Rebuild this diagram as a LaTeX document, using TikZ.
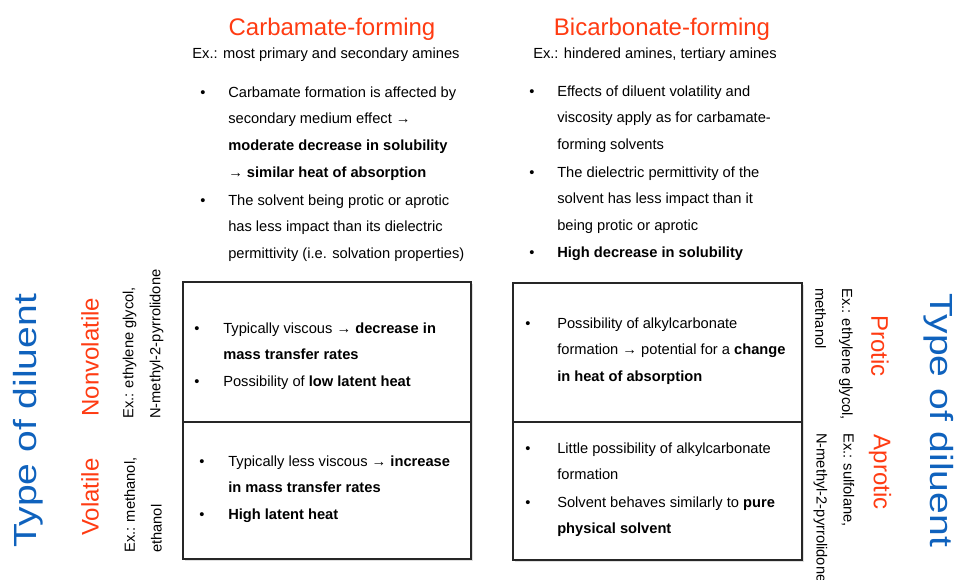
\documentclass[tikz,border=0pt]{standalone}
\usepackage{fontspec}
\setmainfont{Liberation Sans}
\usetikzlibrary{shadows}
\definecolor{hdred}{HTML}{FF3B12}
\definecolor{dilblue}{HTML}{0F62BD}
\newcommand{\txtlines}[1]{\begin{tabular}[t]{@{}l@{}}#1\end{tabular}}

\begin{document}
\begin{tikzpicture}[x=0.75pt,y=-0.75pt,
    body/.style={font=\fontsize{11}{20.2}\selectfont,anchor=base west,inner sep=0pt},
    bul/.style={font=\fontsize{11}{20.2}\selectfont,anchor=base,inner sep=0pt},
    head/.style={font=\fontsize{18}{20}\selectfont,text=hdred,inner sep=0pt},
    sub/.style={font=\fontsize{11}{14}\selectfont,anchor=base,inner sep=0pt},
    side/.style={font=\fontsize{11}{20.2}\selectfont,align=left,anchor=west,inner sep=0pt},
    dil/.style={font=\fontsize{24}{26}\selectfont,text=dilblue,inner sep=0pt},
    cell/.style={draw=black!85,line width=1.1pt,fill=white,
        drop shadow={shadow xshift=1.3pt,shadow yshift=-1.3pt,opacity=0.25}}]
        \useasboundingbox (0,0) rectangle (957,579);

        % column heads
        \node[head,anchor=base](carbHead)at(332,35){Carbamate-forming};
        \node[sub](carbEx)at(326,58){Ex.: most primary and secondary amines};
        \node[head,anchor=base](bicHead)at(662,35){Bicarbonate-forming};
        \node[sub](bicEx)at(655,58){Ex.: hindered amines, tertiary amines};

        % carbamate list
        \node[bul](cb1)at(203,97){•};
        \node[body](ct1)at(228,97){\txtlines{Carbamate formation is affected by\\secondary medium effect →\\\textbf{moderate decrease in solubility}\\\textbf{→ similar heat of absorption}}};
        \node[bul](cb2)at(203,205){•};
        \node[body](ct2)at(228,205){\txtlines{The solvent being protic or aprotic\\has less impact than its dielectric\\permittivity (i.e. solvation properties)}};

        % bicarbonate list
        \node[bul](bb1)at(532,96){•};
        \node[body](bt1)at(557,96){\txtlines{Effects of diluent volatility and\\viscosity apply as for carbamate-\\forming solvents}};
        \node[bul](bb2)at(532,177){•};
        \node[body](bt2)at(557,177){\txtlines{The dielectric permittivity of the\\solvent has less impact than it\\being protic or aprotic}};
        \node[bul](bb3)at(532,257){•};
        \node[body](bt3)at(557,257){\textbf{High decrease in solubility}};

        % boxes
        \draw[cell](183,282)rectangle(471,422);
        \draw[cell](183,422)rectangle(471,559);
        \draw[cell](513,283)rectangle(802,422);
        \draw[cell](513,422)rectangle(802,560);

        \node[bul](nvb1)at(197,333){•};
        \node[body](nvt1)at(223,333){\txtlines{Typically viscous → \textbf{decrease in}\\\textbf{mass transfer rates}}};
        \node[bul](nvb2)at(197,386){•};
        \node[body](nvt2)at(223,386){Possibility of \textbf{low latent heat}};

        \node[bul](vb1)at(202,466){•};
        \node[body](vt1)at(228,466){\txtlines{Typically less viscous → \textbf{increase}\\\textbf{in mass transfer rates}}};
        \node[bul](vb2)at(202,519){•};
        \node[body](vt2)at(228,519){\textbf{High latent heat}};

        \node[bul](pb1)at(528,328){•};
        \node[body](pt1)at(557,328){\txtlines{Possibility of alkylcarbonate\\formation → potential for a \textbf{change}\\\textbf{in heat of absorption}}};

        \node[bul](ab1)at(528,453){•};
        \node[body](at1)at(557,453){\txtlines{Little possibility of alkylcarbonate\\formation}};
        \node[bul](ab2)at(528,507){•};
        \node[body](at2)at(557,507){\txtlines{Solvent behaves similarly to \textbf{pure}\\\textbf{physical solvent}}};

        % left side labels
        \node[dil,rotate=90](dilL)at(28,421){\scalebox{1.22}[1]{Type of diluent}};
        \node[head,rotate=90](nonvol)at(90,357){Nonvolatile};
        \node[head,rotate=90](vol)at(90,497){Volatile};
        \node[side,rotate=90](nonvolEx)at(143,419){Ex.: ethylene glycol,\\N-methyl-2-pyrrolidone};
        \node[side,rotate=90](volEx)at(143,553){Ex.: methanol,\\ethanol};

        % right side labels
        \node[dil,rotate=-90](dilR)at(939,420){\scalebox{1.22}[1]{Type of diluent}};
        \node[head,rotate=-90](prot)at(880,346){Protic};
        \node[head,rotate=-90](aprot)at(880,472){Aprotic};
        \node[side,rotate=-90](protEx)at(834,288){Ex.: ethylene glycol,\\methanol};
        \node[side,rotate=-90](aprotEx)at(834,433){Ex.: sulfolane,\\N-methyl-2-pyrrolidone};

    \end{tikzpicture}
\end{document}
